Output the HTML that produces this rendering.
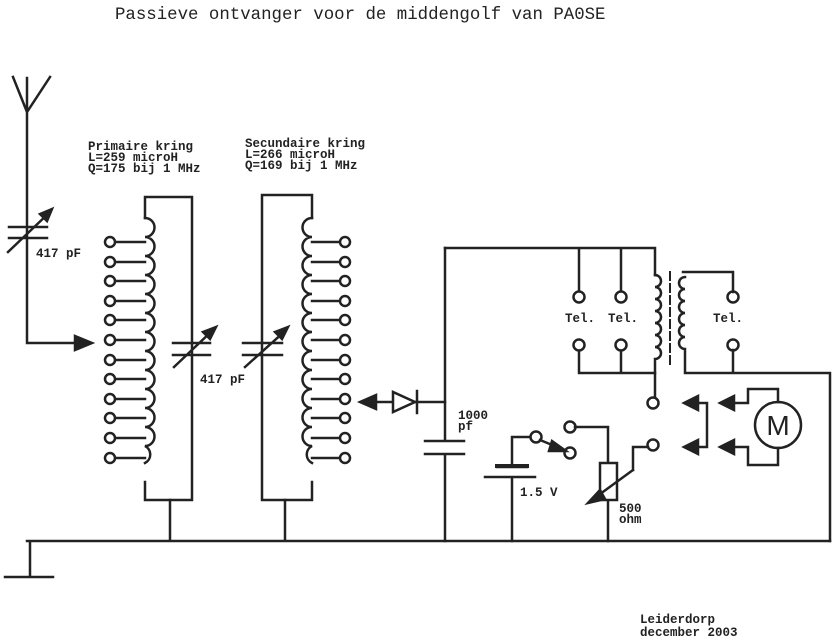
<!DOCTYPE html>
<html><head><meta charset="utf-8"><style>
html,body{margin:0;padding:0;background:#fff}
svg{display:block}
text{font-family:"Liberation Mono",monospace;font-weight:bold;fill:#222}
</style></head><body>
<svg width="833" height="644" viewBox="0 0 833 644" xmlns="http://www.w3.org/2000/svg">
<g stroke="#222" stroke-width="2.5" fill="none" stroke-linecap="square">
<path d="M13,77 L27,112 L50,77 M27,78 L27,343 L75,343"/>
<polygon points="75,336 92,343 75,350" fill="#222"/>
<path d="M9,227 L47,227 M9,238 L47,238"/>
<path d="M8,252 L50,212"/><polygon points="52,209 40,214 47,221" fill="#222"/>
<path d="M145,218 L145,197 L192,197 L192,500 L145,500 L145,482"/>
<path d="M145,218 a9.5,9.5 0 0 1 0,19 a9.5,9.5 0 0 1 0,19 a9.5,9.5 0 0 1 0,19 a9.5,9.5 0 0 1 0,19 a9.5,9.5 0 0 1 0,19 a9.5,9.5 0 0 1 0,19 a9.5,9.5 0 0 1 0,19 a9.5,9.5 0 0 1 0,19 a9.5,9.5 0 0 1 0,19 a9.5,9.5 0 0 1 0,19 a9.5,9.5 0 0 1 0,19 a9.5,9.5 0 0 1 0,19 a9.5,9.5 0 0 1 0,17"/>
<path d="M115,242H145M115,262H145M115,281H145M115,301H145M115,320H145M115,340H145M115,360H145M115,379H145M115,399H145M115,418H145M115,438H145M115,458H145"/>
<g fill="#fff"><circle cx="110" cy="242" r="5"/><circle cx="110" cy="262" r="5"/><circle cx="110" cy="281" r="5"/><circle cx="110" cy="301" r="5"/><circle cx="110" cy="320" r="5"/><circle cx="110" cy="340" r="5"/><circle cx="110" cy="360" r="5"/><circle cx="110" cy="379" r="5"/><circle cx="110" cy="399" r="5"/><circle cx="110" cy="418" r="5"/><circle cx="110" cy="438" r="5"/><circle cx="110" cy="458" r="5"/></g>
<path d="M312,218 L312,195 L262,195 L262,500 L312,500 L312,482"/>
<path d="M312,218 a9.5,9.5 0 0 0 0,19 a9.5,9.5 0 0 0 0,19 a9.5,9.5 0 0 0 0,19 a9.5,9.5 0 0 0 0,19 a9.5,9.5 0 0 0 0,19 a9.5,9.5 0 0 0 0,19 a9.5,9.5 0 0 0 0,19 a9.5,9.5 0 0 0 0,19 a9.5,9.5 0 0 0 0,19 a9.5,9.5 0 0 0 0,19 a9.5,9.5 0 0 0 0,19 a9.5,9.5 0 0 0 0,19 a9.5,9.5 0 0 0 0,17"/>
<path d="M312,242H340M312,262H340M312,281H340M312,301H340M312,320H340M312,340H340M312,360H340M312,379H340M312,399H340M312,418H340M312,438H340M312,458H340"/>
<g fill="#fff"><circle cx="345" cy="242" r="5"/><circle cx="345" cy="262" r="5"/><circle cx="345" cy="281" r="5"/><circle cx="345" cy="301" r="5"/><circle cx="345" cy="320" r="5"/><circle cx="345" cy="340" r="5"/><circle cx="345" cy="360" r="5"/><circle cx="345" cy="379" r="5"/><circle cx="345" cy="399" r="5"/><circle cx="345" cy="418" r="5"/><circle cx="345" cy="438" r="5"/><circle cx="345" cy="458" r="5"/></g>
<path d="M173,343H210M173,355H210M174,367L213,330"/><polygon points="216,327 203,332 210,339" fill="#222"/>
<path d="M243,343H282M243,355H282M245,367L285,331"/><polygon points="288,327 275,332 282,339" fill="#222"/>
<path d="M170,500V541M285,500V541M27,541H830M30,541V577M5,577H53"/>
<path d="M375,402H445"/><polygon points="360,402 376,395 376,409" fill="#222"/>
<polygon points="393,392 393,412 415,402" fill="#fff"/><path d="M417,391V413"/>
<path d="M445,248V441M445,454V541M425,441H464M425,454H464"/>
<path d="M445,248H655V275M579,248V292M621,248V292M579,350V373H655M621,350V373"/>
<g fill="#fff"><circle cx="579" cy="297" r="5.5"/><circle cx="621" cy="297" r="5.5"/><circle cx="579" cy="345" r="5.5"/><circle cx="621" cy="345" r="5.5"/><circle cx="733" cy="297" r="5.5"/><circle cx="733" cy="345" r="5.5"/></g>
<path d="M655,275 a6,6 0 0 1 0,12 a6,6 0 0 1 0,12 a6,6 0 0 1 0,12 a6,6 0 0 1 0,12 a6,6 0 0 1 0,12 a6,6 0 0 1 0,12 a6,6 0 0 1 0,12 V373 V397"/>
<path d="M683,272H733V292M685,277 a6,6 0 0 0 0,12 a6,6 0 0 0 0,12 a6,6 0 0 0 0,12 a6,6 0 0 0 0,12 a6,6 0 0 0 0,12 a6,6 0 0 0 0,12 V373 H830 V541 M733,350V373"/>
<path d="M670,272V367" stroke-dasharray="8,4" stroke-width="2"/>
<g fill="#fff"><circle cx="653" cy="403" r="5.5"/><circle cx="653" cy="445" r="5.5"/><circle cx="570" cy="427" r="5.5"/><circle cx="536" cy="437" r="5.5"/><circle cx="570" cy="453" r="5.5"/></g>
<path d="M530,437H512V467M512,477V541M497,467H527M485,477H535"/>
<path d="M497,466H527" stroke-width="4"/>
<path d="M540,440L562,449"/><polygon points="566,451 552,441 549,451" fill="#222"/>
<path d="M575,427H608V463M608,500V541"/>
<rect x="600" y="463" width="17" height="37" fill="#fff"/>
<path d="M633,470L596,497M633,470V447H648"/><polygon points="588,503 600,490 605,499" fill="#222"/>
<path d="M695,403H707V447H695"/><polygon points="684,403 698,396 698,410" fill="#222"/><polygon points="684,447 698,440 698,454" fill="#222"/>
<path d="M730,403H748V389H778V402M730,447H748V465H778V448"/><polygon points="720,403 734,396 734,410" fill="#222"/><polygon points="720,447 734,440 734,454" fill="#222"/>
<circle cx="778" cy="425" r="23"/>
</g>
<text x="778" y="435" font-size="28" text-anchor="middle" style="font-family:'Liberation Sans',sans-serif;font-weight:normal">M</text>
<text x="115" y="19" font-size="17.4" style="font-weight:normal">Passieve ontvanger voor de middengolf van PA0SE</text>
<g font-size="12.5">
<text x="88" y="150">Primaire kring</text><text x="88" y="161">L=259 microH</text><text x="88" y="172">Q=175 bij 1 MHz</text>
<text x="245" y="147">Secundaire kring</text><text x="245" y="158">L=266 microH</text><text x="245" y="169">Q=169 bij 1 MHz</text>
<text x="36" y="257">417 pF</text><text x="200" y="383">417 pF</text>
<text x="458" y="419">1000</text><text x="458" y="430">pf</text>
<text x="520" y="496">1.5 V</text>
<text x="619" y="512">500</text><text x="619" y="523">ohm</text>
<text x="565" y="322">Tel.</text><text x="608" y="322">Tel.</text><text x="713" y="322">Tel.</text>
<text x="640" y="623">Leiderdorp</text><text x="640" y="636">december 2003</text>
</g>
</svg>
</body></html>
